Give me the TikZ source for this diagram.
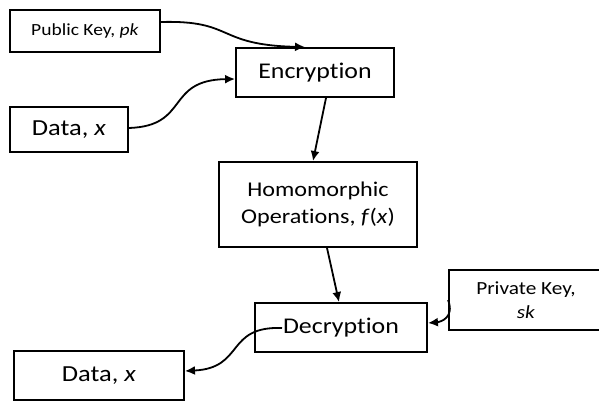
\documentclass[tikz,border=0pt]{standalone}
\usepackage{fontspec}
\setmainfont{Carlito}[FakeStretch=1.15,Ligatures=NoCommon]
\usetikzlibrary{arrows.meta}
\begin{document}
\begin{tikzpicture}[x=1pt,y=-1pt,
  box/.style={draw,line width=1.9pt,inner sep=0pt,align=center},
  conn/.style={line width=1.8pt,-{Latex[length=10pt,width=9pt]}}]
\useasboundingbox (0,0) rectangle (599,403);
\clip (0,0) rectangle (599,403);
\node[box,minimum width=150pt,minimum height=42pt,font=\fontsize{17}{20}\selectfont] (pk) at (85,31) {Public Key, \textit{pk}};
\node[box,minimum width=158pt,minimum height=49pt,font=\fontsize{22.5}{26}\selectfont] (enc) at (315,72.5) {Encryption};
\node[box,minimum width=118pt,minimum height=45pt,font=\fontsize{23}{27}\selectfont] (dtop) at (69,129.5) {Data, \textit{x}};
\node[box,minimum width=198pt,minimum height=85pt,font=\fontsize{21}{27}\selectfont] (hom) at (318,204.5) {Homomorphic\\Operations, \textit{f}(\textit{x})};
\node[box,minimum width=154pt,minimum height=60pt,font=\fontsize{18.5}{24}\selectfont] (sk) at (526,300) {Private Key,\\\textit{sk}};
\node[box,minimum width=172pt,minimum height=49pt,font=\fontsize{22.5}{26}\selectfont] (dec) at (341,327.5) {Decryption};
\node[box,minimum width=170pt,minimum height=49pt,font=\fontsize{23}{27}\selectfont] (dbot) at (99,375.5) {Data, \textit{x}};
\coordinate (pkout) at ([yshift=9pt]pk.east);
\coordinate (encin1) at ([xshift=-10pt]enc.north);
\coordinate (encin2) at ([yshift=-6.5pt]enc.west);
\coordinate (dtopout) at ([yshift=1.5pt]dtop.east);
\coordinate (skout) at ([yshift=0pt]sk.west);
\coordinate (decin) at ([yshift=4.5pt]dec.east);
\coordinate (decout) at ([xshift=-59pt,yshift=-0.5pt]dec.center);
\coordinate (dbotin) at ([yshift=4.5pt]dbot.east);
\draw[conn] (pkout) .. controls (235,20) and (215,45) .. (encin1);
\draw[conn] (dtopout) .. controls (190,126) and (165,80) .. (encin2);
\draw[conn] ([xshift=11pt]enc.south) -- ([xshift=-5pt]hom.north);
\draw[conn] ([xshift=9pt]hom.south) -- ([xshift=-2pt]dec.north);
\draw[conn] (skout) .. controls (455,318) and (440,322) .. (decin);
\draw[conn] (decout) .. controls (225,326) and (245,368) .. (dbotin);
\end{tikzpicture}
\end{document}
